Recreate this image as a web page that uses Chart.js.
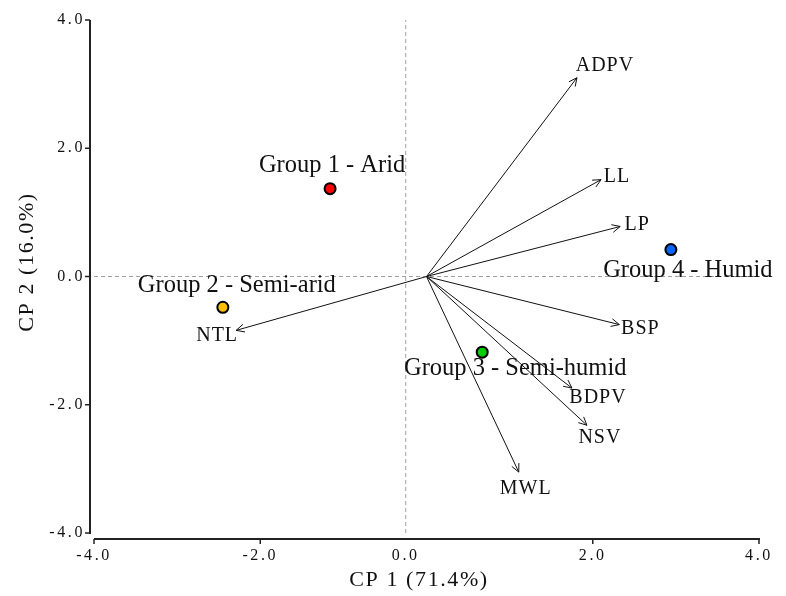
<!DOCTYPE html>
<html>
<head>
<meta charset="utf-8">
<script src="https://cdn.jsdelivr.net/npm/chart.js@4.4.1/dist/chart.umd.min.js"></script>
<style>
  html, body { margin: 0; padding: 0; background: #fff; }
  #wrap { width: 786px; height: 596px; }
</style>
</head>
<body>
<div id="wrap"><canvas id="biplot"></canvas></div>
<script>
// group scores
const groupNames = ['Group 1 - Arid', 'Group 2 - Semi-arid', 'Group 3 - Semi-humid', 'Group 4 - Humid'];
const groupCP1 = [-1.16, -2.45, 0.67, 2.94];
const groupCP2 = [1.37, -0.48, -1.18, 0.42];

// variable loadings (arrow tips)
const varNames = ['ADPV', 'LL', 'LP', 'BSP', 'BDPV', 'NSV', 'MWL', 'NTL'];
const varCP1 = [1.81, 2.10, 2.33, 2.32, 1.75, 1.93, 1.11, -2.29];
const varCP2 = [3.10, 1.51, 0.78, -0.75, -1.74, -2.32, -3.05, -0.84];

// axes
const xTickValues = [-4, -2, -0.25, 2, 4];
const xTickLabels = ['-4.0', '-2.0', '0.0', '2.0', '4.0'];
const yTickValues = [-4, -2, 0, 2, 4];
const yTickLabels = ['-4.0', '-2.0', '0.0', '2.0', '4.0'];
const vRefX = -0.25;
const xTitle = 'CP 1 (71.4%)';
const yTitle = 'CP 2 (16.0%)';

// styling
const FONT = '"Liberation Serif", "Times New Roman", serif';
const INK = '#111';
const groupColors = ['#ff0000', '#ffc000', '#00cc00', '#0066ff'];
const groupLabelOffsets = [[2, -23], [14, -22], [33, 16], [17, 21]];
const varLabelOffsets = [[28, -12], [16, -3], [17, -2], [21, 4], [26, 10], [13, 12], [7, 17], [-19, 5]];

const datasets = [];
datasets.push({
    label: 'groups',
    data: groupNames.map((n, i) => ({ x: groupCP1[i], y: groupCP2[i] })),
    showLine: false,
    pointRadius: 5.5,
    pointBackgroundColor: groupColors,
    pointBorderColor: '#000',
    pointBorderWidth: 2
});
varNames.forEach((n, i) => {
    datasets.push({
        label: n,
        isArrow: true,
        data: [{ x: 0, y: 0 }, { x: varCP1[i], y: varCP2[i] }],
        showLine: true,
        borderColor: INK,
        borderWidth: 1,
        pointRadius: 0
    });
});
// dashed reference lines
datasets.push({
    data: [{ x: -4, y: 0 }, { x: 4, y: 0 }],
    showLine: true, borderColor: '#a0a0a0', borderWidth: 1, borderDash: [4, 3], pointRadius: 0
});
datasets.push({
    data: [{ x: vRefX, y: -4 }, { x: vRefX, y: 4 }],
    showLine: true, borderColor: '#a0a0a0', borderWidth: 1, borderDash: [4, 3], pointRadius: 0
});

const biplotDecor = {
    id: 'biplotDecor',
    beforeDraw(chart) {
        chart.ctx.letterSpacing = '2.6px';
    },
    afterDraw(chart) {
        const ctx = chart.ctx;
        const xs = chart.scales.x, ys = chart.scales.y;
        const area = chart.chartArea;
        ctx.save();

        // arrow heads + variable labels
        chart.data.datasets.forEach((ds, di) => {
            if (!ds.isArrow) return;
            const pts = chart.getDatasetMeta(di).data;
            const o = pts[0], t = pts[1];
            const ang = Math.atan2(t.y - o.y, t.x - o.x);
            ctx.strokeStyle = INK;
            ctx.lineWidth = 1;
            ctx.beginPath();
            ctx.moveTo(t.x - 9 * Math.cos(ang - 0.45), t.y - 9 * Math.sin(ang - 0.45));
            ctx.lineTo(t.x, t.y);
            ctx.lineTo(t.x - 9 * Math.cos(ang + 0.45), t.y - 9 * Math.sin(ang + 0.45));
            ctx.stroke();

            const vi = varNames.indexOf(ds.label);
            const off = varLabelOffsets[vi];
            ctx.letterSpacing = '1px';
            ctx.font = '20px ' + FONT;
            ctx.fillStyle = INK;
            ctx.textAlign = 'center';
            ctx.textBaseline = 'middle';
            ctx.fillText(ds.label, t.x + off[0], t.y + off[1]);
        });

        // group labels
        const gm = chart.getDatasetMeta(0).data;
        ctx.letterSpacing = '0px';
        ctx.font = '24.5px ' + FONT;
        ctx.fillStyle = INK;
        ctx.textAlign = 'center';
        ctx.textBaseline = 'middle';
        groupNames.forEach((n, i) => {
            ctx.fillText(n, gm[i].x + groupLabelOffsets[i][0], gm[i].y + groupLabelOffsets[i][1]);
        });

        // offset axis lines with tick marks
        ctx.strokeStyle = '#222';
        ctx.lineWidth = 2;
        const axX = area.left - 4;
        const axY = area.bottom + 6;
        ctx.beginPath();
        ctx.moveTo(axX, area.top);
        ctx.lineTo(axX, area.bottom + 1);
        ctx.moveTo(area.left, axY);
        ctx.lineTo(area.right + 1, axY);
        ctx.stroke();
        ctx.lineWidth = 1.5;
        ctx.beginPath();
        yTickValues.forEach(v => {
            const py = ys.getPixelForValue(v);
            ctx.moveTo(axX - 5, py);
            ctx.lineTo(axX, py);
        });
        xTickValues.forEach(v => {
            if (v === vRefX) return;
            const px = xs.getPixelForValue(v);
            ctx.moveTo(px, axY);
            ctx.lineTo(px, axY + 5);
        });
        ctx.stroke();

        // axis titles
        ctx.letterSpacing = '1.6px';
        ctx.font = '22px ' + FONT;
        ctx.fillStyle = INK;
        ctx.textAlign = 'center';
        ctx.textBaseline = 'middle';
        ctx.fillText(xTitle, 419, 580);
        ctx.translate(27, 262);
        ctx.rotate(-Math.PI / 2);
        ctx.fillText(yTitle, 0, 0);
        ctx.restore();
    }
};

new Chart(document.getElementById('biplot').getContext('2d'), {
    type: 'scatter',
    data: { datasets: datasets },
    options: {
        responsive: true,
        maintainAspectRatio: false,
        animation: false,
        layout: { padding: { top: 20, right: 27, bottom: 0, left: 0 } },
        plugins: {
            legend: { display: false },
            tooltip: { enabled: false }
        },
        scales: {
            x: {
                type: 'linear',
                min: -4,
                max: 4,
                afterBuildTicks: axis => { axis.ticks = xTickValues.map(v => ({ value: v })); },
                afterFit: scale => { scale.height = 63; },
                grid: { display: false, drawTicks: false },
                border: { display: false },
                ticks: {
                    autoSkip: false,
                    maxRotation: 0,
                    padding: 13,
                    color: INK,
                    font: { family: FONT, size: 16 },
                    callback: (v, i) => xTickLabels[i]
                }
            },
            y: {
                type: 'linear',
                min: -4,
                max: 4,
                afterBuildTicks: axis => { axis.ticks = yTickValues.map(v => ({ value: v })); },
                afterFit: scale => { scale.width = 94; },
                grid: { display: false, drawTicks: false },
                border: { display: false },
                ticks: {
                    autoSkip: false,
                    padding: 9,
                    color: INK,
                    font: { family: FONT, size: 16 },
                    callback: (v, i) => yTickLabels[i]
                }
            }
        }
    },
    plugins: [biplotDecor]
});
</script>
</body>
</html>
